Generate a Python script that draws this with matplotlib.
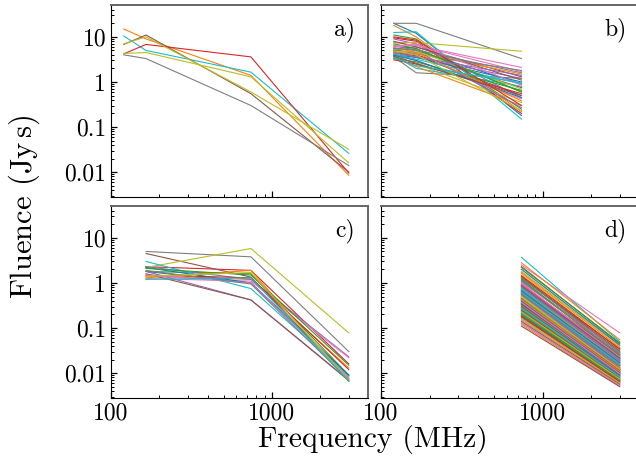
import numpy as np
import matplotlib
matplotlib.use("Agg")
from matplotlib import pyplot as plt

plt.rcParams['font.family'] = 'serif'
plt.rcParams['font.serif'] = ['cmr10', 'DejaVu Serif']
plt.rcParams['mathtext.fontset'] = 'cm'
plt.rcParams['axes.formatter.use_mathtext'] = True

# frequencies (MHz)
a_freq = [120, 165, 740, 3000]
b_freq = [120, 165, 740]
c_freq = [165, 740, 3000]
d_freq = [740, 3000]

# panel a) fluences (Jy s), one row per burst
a_fluence = [
    [15.0, 9.0, 1.4, 0.0085],
    [10.5, 5.0, 1.65, 0.026],
    [6.8, 11.0, 0.55, 0.010],
    [4.2, 6.8, 3.6, 0.0095],
    [7.0, 10.0, 0.6, 0.032],
    [4.3, 4.5, 1.3, 0.016],
    [4.0, 3.3, 0.3, 0.014],
]
a_colors = ['C1', 'C9', 'C5', 'C3', 'C8', 'C8', 'C7']

# panel b)
b_f120 = [20, 18, 11, 9.5, 9, 5.5, 7.5, 20, 7.5, 12.5,
          5.5, 5, 5, 4.8, 4.5, 4.5, 4.2, 3.6, 4, 3.8,
          4, 3.5, 3.3, 3.1, 6.5, 8, 6, 5.2, 4.6, 4.1,
          3.9, 5.8, 7, 10, 4.4, 3.7, 6.2, 5.6, 4.9, 3.4]
b_f165 = [12, 10, 9, 8, 7, 6, 6.5, 20, 7.5, 13,
          5, 4.5, 5.5, 4, 3.5, 3.8, 3, 1.6, 2.5, 2,
          3.5, 2.2, 2.8, 2.5, 5, 6, 6.5, 4.2, 4.8, 3.2,
          3.0, 4.5, 5.5, 8.5, 3.6, 2.6, 7, 5.2, 4.0, 2.3]
b_f740 = [0.18, 0.22, 0.25, 0.2, 0.45, 1.3, 2.1, 3.3, 4.8, 0.15,
          0.9, 1.5, 0.6, 0.75, 1.2, 0.5, 0.42, 1.2, 0.35, 0.8,
          1.0, 0.3, 0.65, 0.55, 0.27, 1.1, 1.7, 1.8, 0.7, 0.9,
          0.45, 0.38, 0.6, 0.3, 1.4, 0.5, 0.85, 1.6, 0.23, 0.95]

# panel c)
c_f165 = [1.8, 1.4, 1.8, 2.3, 2.3, 4.5, 1.25, 5.0, 2.2, 3.0,
          2.2, 1.3, 2.1, 1.5, 1.8, 1.6, 1.5, 1.9, 1.4, 1.2]
c_f740 = [1.0, 1.2, 1.6, 1.9, 1.2, 1.35, 1.1, 3.8, 5.8, 0.75,
          1.0, 1.9, 1.5, 1.3, 0.42, 0.42, 1.0, 0.95, 1.7, 1.3]
c_f3000 = [0.009, 0.013, 0.009, 0.016, 0.023, 0.0075, 0.022, 0.03, 0.078, 0.0085,
           0.009, 0.0065, 0.015, 0.012, 0.007, 0.0068, 0.008, 0.007, 0.0072, 0.0066]

# panel d)
d_f740 = [0.62, 0.35, 1.1, 0.21, 0.48, 2.3, 0.15, 0.8, 0.4, 0.27,
          0.95, 0.55, 0.18, 1.4, 0.33, 0.7, 0.24, 0.45, 1.8, 0.13,
          0.58, 0.3, 0.88, 0.42, 0.2, 1.25, 0.5, 0.26, 0.68, 0.37,
          0.39, 0.16, 0.75, 0.44, 1.0, 0.29, 0.52, 0.22, 1.6, 3.7,
          0.64, 0.12, 0.47, 0.34, 0.82, 0.19, 2.5, 1.15, 0.57, 0.28,
          0.72, 2.8, 0.23, 0.92, 0.36, 1.35, 0.6, 0.17, 0.49, 0.31,
          2.0, 0.66, 0.25, 0.85, 0.43, 0.14, 1.05, 0.53, 0.32, 0.78,
          0.46, 0.41, 1.2, 0.38, 0.63, 0.11, 0.9, 0.27, 0.51, 0.21,
          0.35, 0.7, 0.2, 1.45, 0.56, 0.3, 0.98, 0.44, 0.16, 0.74,
          0.4, 1.7, 0.59, 0.24, 0.83, 0.33, 0.13, 1.1, 0.48, 0.28,
          0.67, 0.42, 2.2, 0.18, 0.55, 0.87, 0.37, 1.3, 0.23, 0.61]
d_f3000 = [0.018, 0.011, 0.03, 0.0075, 0.013, 0.045, 0.0062, 0.02, 0.009, 0.01,
           0.022, 0.016, 0.0068, 0.028, 0.0085, 0.024, 0.0082, 0.015, 0.04, 0.0055,
           0.012, 0.0105, 0.026, 0.011, 0.0064, 0.035, 0.0145, 0.0072, 0.017, 0.0125,
           0.0102, 0.0058, 0.021, 0.0098, 0.019, 0.0091, 0.017, 0.0078, 0.033, 0.05,
           0.0155, 0.0052, 0.0118, 0.012, 0.023, 0.007, 0.078, 0.027, 0.0138, 0.0088,
           0.0195, 0.055, 0.0069, 0.025, 0.0096, 0.031, 0.0165, 0.0063, 0.0128, 0.0094,
           0.042, 0.015, 0.0084, 0.021, 0.0108, 0.0057, 0.029, 0.0135, 0.0099, 0.018,
           0.0112, 0.0132, 0.024, 0.0115, 0.0172, 0.005, 0.02, 0.0079, 0.0152, 0.0066,
           0.0093, 0.0188, 0.0071, 0.034, 0.0126, 0.0087, 0.023, 0.0121, 0.0061, 0.02,
           0.0104, 0.037, 0.0148, 0.0076, 0.019, 0.0101, 0.0054, 0.026, 0.0122, 0.0083,
           0.0168, 0.0109, 0.047, 0.0065, 0.0142, 0.0215, 0.0097, 0.029, 0.0074, 0.0158]

W, H = 636, 462
fig = plt.figure(figsize=(W / 100, H / 100), dpi=100)

aw, ah = 257 / W, 192 / H
axa = fig.add_axes([111 / W, (H - 197) / H, aw, ah])
axb = fig.add_axes([381 / W, (H - 197) / H, 258 / W, ah])
axc = fig.add_axes([111 / W, (H - 398) / H, aw, ah])
axd = fig.add_axes([381 / W, (H - 398) / H, 258 / W, ah])

lw = 0.8
for row, col in zip(a_fluence, a_colors):
    axa.plot(a_freq, row, color=col, lw=lw)
for i in range(len(b_f120)):
    axb.plot(b_freq, [b_f120[i], b_f165[i], b_f740[i]], lw=lw)
for i in range(len(c_f165)):
    axc.plot(c_freq, [c_f165[i], c_f740[i], c_f3000[i]], lw=lw)
for i in range(len(d_f740)):
    axd.plot(d_freq, [d_f740[i], d_f3000[i]], lw=lw)

for ax, lab in zip([axa, axb, axc, axd], ['a)', 'b)', 'c)', 'd)']):
    ax.set_xscale('log')
    ax.set_yscale('log')
    ax.set_xlim(100, 3950)
    ax.set_ylim(0.0028, 51)
    ax.set_xticks([100, 1000])
    ax.set_yticks([10, 1, 0.1, 0.01])
    ax.set_xticklabels(['100', '1000'])
    ax.set_yticklabels(['10', '1', '0.1', '0.01'])
    ax.tick_params(which='both', direction='in', top=False, right=False, labelsize=17)
    ax.tick_params(which='major', length=4, width=0.9)
    ax.tick_params(which='minor', length=2.5, width=0.7)
    ax.spines['left'].set_color('black')
    ax.spines['bottom'].set_color('black')
    ax.spines['top'].set_color('0.4')
    ax.spines['right'].set_color('0.4')
    ax.spines['top'].set_linewidth(1.4)
    ax.spines['right'].set_linewidth(1.4)
    ax.text(0.95, 0.87, lab, transform=ax.transAxes, ha='right', va='center', fontsize=17)

for ax in [axa, axb]:
    ax.tick_params(labelbottom=False)
for ax in [axb, axd]:
    ax.tick_params(labelleft=False)

fig.text(0.038, 0.552, 'Fluence (Jy$\\,$s)', rotation=90, ha='center', va='center', fontsize=22)
fig.text(0.587, 0.048, 'Frequency (MHz)', ha='center', va='center', fontsize=21.3)

fig.savefig('out.png', dpi=100)
